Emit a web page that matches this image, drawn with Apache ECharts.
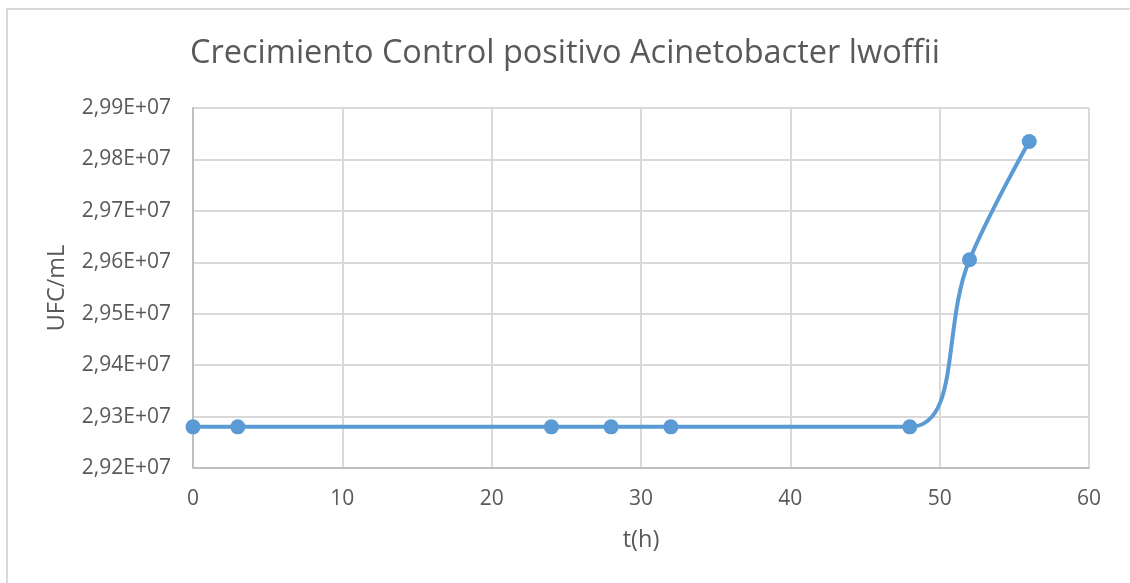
<!DOCTYPE html>
<html>
<head>
<meta charset="utf-8">
<script src="https://cdn.jsdelivr.net/npm/echarts@6/dist/echarts.min.js"></script>
<style>
  html, body { margin: 0; padding: 0; background: #fff; }
  #chart { width: 1130px; height: 583px; }
</style>
</head>
<body>
<div id="chart"></div>
<script>
// datos
const horas = [0, 3, 24, 28, 32, 48, 52, 56]
const ufc = [29280000, 29280000, 29280000, 29280000, 29280000, 29280000, 29605000, 29835000]
const titulo = 'Crecimiento Control positivo Acinetobacter lwoffii'

const myChart = echarts.init(document.querySelector('#chart'))

// etiqueta tipo Excel: 2,99E+07
const fmtExp = v => (v / 1e7).toFixed(2).replace('.', ',') + 'E+07'

const option = {
  backgroundColor: '#fff',
  textStyle: { fontFamily: 'Open Sans' },
  title: {
    text: titulo,
    left: 'center',
    top: 32,
    textStyle: { fontSize: 32.5, fontWeight: 'normal', color: '#595959', fontFamily: 'Open Sans' }
  },
  // borde del área del gráfico
  graphic: [{
    type: 'rect',
    shape: { x: 7, y: 9, width: 1200, height: 700 },
    style: { fill: 'none', stroke: '#d9d9d9', lineWidth: 2 },
    silent: true
  }],
  grid: { left: 193, right: 41, top: 108, bottom: 115 },
  xAxis: {
    type: 'value',
    min: 0,
    max: 60,
    interval: 10,
    name: 't(h)',
    nameLocation: 'middle',
    nameGap: 60,
    nameTextStyle: { fontSize: 23.5, color: '#595959' },
    axisLine: { lineStyle: { color: '#bfbfbf', width: 2 } },
    axisTick: { show: false },
    axisLabel: { fontSize: 21, color: '#595959', margin: 21 },
    splitLine: { lineStyle: { color: '#d9d9d9', width: 2 } }
  },
  yAxis: {
    type: 'value',
    min: 29200000,
    max: 29900000,
    interval: 100000,
    name: 'UFC/mL',
    nameLocation: 'middle',
    nameGap: 124,
    nameTextStyle: { fontSize: 23.5, color: '#595959' },
    axisLine: { show: true, lineStyle: { color: '#bfbfbf', width: 2 } },
    axisTick: { show: false },
    axisLabel: { fontSize: 21, color: '#595959', margin: 22, formatter: fmtExp },
    splitLine: { lineStyle: { color: '#d9d9d9', width: 2 } }
  },
  series: [{
    type: 'line',
    data: horas.map((h, i) => [h, ufc[i]]),
    smooth: 0.4,
    symbol: 'circle',
    symbolSize: 15,
    itemStyle: { color: '#5b9bd5' },
    lineStyle: { color: '#5b9bd5', width: 4 }
  }],
  animation: false
}

myChart.setOption(option)
</script>
</body>
</html>
